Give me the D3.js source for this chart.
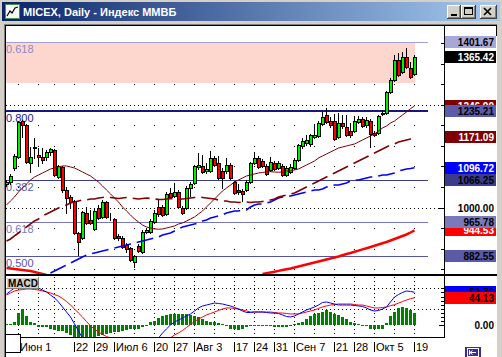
<!DOCTYPE html>
<html><head><meta charset="utf-8">
<script src="https://cdn.jsdelivr.net/npm/d3@7"></script>
<style>html,body{margin:0;padding:0;background:#D4D0C8;overflow:hidden}svg{display:block}</style>
</head><body><svg id="c" width="502" height="357"></svg>
<script>
// ---------------- DATA ----------------
const firstDay = "2009-05-27", lastDay = "2009-10-19";
const holidays = ["2009-06-12"];
const open = [1057.5,1062.3,1096.3,1123.0,1210.5,1200.8,1108.5,1147.3,1127.9,1123.0,
1123.0,1135.2,1140.0,1074.5,1098.8,1042.9,1025.9,1016.2,938.4,926.3,
987.0,970.0,948.2,999.2,977.3,1013.7,979.7,972.4,931.2,926.3,
909.3,902.0,868.0,906.9,892.3,940.9,940.9,965.2,1001.6,1001.6,
984.6,1035.6,1028.3,1038.0,999.2,999.2,1047.7,1059.9,1098.8,1101.2,
1089.0,1089.0,1120.6,1108.5,1089.0,1089.0,1103.6,1062.3,1042.9,1040.5,
1042.9,1062.3,1108.5,1120.6,1113.3,1101.2,1091.5,1108.5,1096.3,1101.2,
1079.3,1086.6,1096.3,1115.8,1149.8,1157.1,1154.6,1171.6,1174.1,1203.2,
1225.1,1210.5,1210.5,1171.6,1205.6,1195.9,1186.2,1186.2,1208.1,1215.3,
1200.8,1210.5,1181.3,1181.3,1227.5,1229.9,1280.9,1310.1,1358.7,1329.5,
1365.9,1339.2,1324.7];
const high = [1067.2,1081.8,1130.3,1210.5,1212.9,1203.2,1147.3,1169.2,1144.9,1144.9,
1140.0,1144.9,1142.5,1103.6,1101.2,1050.2,1030.7,1018.6,940.9,991.9,
1001.6,994.3,999.2,1006.5,1018.6,1016.2,987.0,974.9,936.0,931.2,
914.2,904.4,885.0,911.7,945.7,950.6,972.4,994.3,1021.0,1006.5,
1038.0,1047.7,1059.9,1042.9,1004.0,1052.6,1062.3,1103.6,1132.8,1127.9,
1108.5,1137.6,1125.5,1125.5,1096.3,1120.6,1108.5,1064.8,1057.5,1045.3,
1067.2,1110.9,1135.2,1125.5,1118.2,1106.0,1123.0,1113.3,1113.3,1106.0,
1101.2,1106.0,1120.6,1154.6,1169.2,1176.5,1178.9,1203.2,1210.5,1232.4,
1242.1,1220.2,1227.5,1229.9,1225.1,1225.1,1205.6,1222.6,1222.6,1220.2,
1220.2,1215.3,1186.2,1225.1,1237.2,1283.4,1314.9,1370.8,1375.7,1378.1,
1387.8,1353.8,1370.8];
const low = [1052.6,1057.5,1091.5,1120.6,1171.6,1108.5,1086.6,1120.6,1103.6,1108.5,
1115.8,1127.9,1076.9,1072.0,1038.0,987.0,999.2,936.0,885.0,923.9,
960.3,960.3,945.7,972.4,974.9,974.9,970.0,923.9,921.4,902.0,
892.3,870.4,855.9,892.3,889.9,938.4,938.4,962.7,979.7,979.7,
982.2,1023.5,1025.9,999.2,984.6,996.7,1028.3,1057.5,1093.9,1084.2,
1084.2,1086.6,1101.2,1069.6,1047.7,1084.2,1069.6,1033.2,1033.2,1016.2,
1040.5,1059.9,1106.0,1096.3,1098.8,1079.3,1089.0,1091.5,1093.9,1076.9,
1076.9,1084.2,1093.9,1113.3,1144.9,1152.2,1149.8,1169.2,1171.6,1200.8,
1205.6,1195.9,1164.3,1169.2,1193.5,1174.1,1171.6,1183.8,1205.6,1195.9,
1195.9,1147.3,1174.1,1178.9,1225.1,1227.5,1278.5,1307.7,1319.8,1327.1,
1339.2,1314.9,1322.2];
const close = [1062.3,1076.9,1125.5,1208.1,1200.8,1110.9,1123.0,1144.9,1123.0,1115.8,
1135.2,1142.5,1079.3,1101.2,1042.9,1023.5,1013.7,938.4,916.6,989.5,
962.7,962.7,991.9,974.9,1013.7,977.3,978.5,926.3,926.3,904.4,
899.6,872.9,882.6,894.7,940.9,945.7,967.6,987.0,984.6,982.2,
1033.2,1025.9,1038.0,1001.6,987.0,1047.7,1057.5,1101.2,1103.6,1086.6,
1093.9,1120.6,1103.6,1072.0,1072.0,1103.6,1072.0,1035.6,1038.0,1033.2,
1062.3,1108.5,1120.6,1098.8,1101.2,1081.8,1110.9,1093.9,1108.5,1079.3,
1096.3,1098.8,1115.8,1152.2,1161.9,1164.3,1176.5,1176.5,1205.6,1220.2,
1208.1,1200.8,1166.8,1205.6,1198.3,1176.5,1176.5,1210.5,1215.3,1198.3,
1212.9,1178.9,1176.5,1222.6,1229.9,1280.9,1310.1,1358.7,1322.2,1365.9,
1341.7,1317.4,1365.42];
const maFast = [1006.5,1016.2,1025.9,1038.0,1047.7,1057.5,1067.2,1074.5,1079.3,1084.2,
1089.0,1093.9,1096.3,1098.8,1101.2,1101.2,1098.8,1096.3,1091.5,1086.6,
1081.8,1076.9,1069.6,1062.3,1052.6,1042.9,1033.2,1023.5,1013.7,1001.6,
991.9,982.2,972.4,965.2,957.9,953.0,950.6,948.2,947.6,948.2,
950.6,953.0,955.4,960.3,962.7,967.6,972.4,977.3,984.6,991.9,
1001.6,1011.3,1021.0,1030.7,1040.5,1047.7,1055.0,1062.3,1067.2,1072.0,
1076.9,1079.3,1081.8,1084.2,1085.4,1086.6,1087.2,1086.6,1086.0,1086.6,
1089.0,1089.0,1091.5,1093.9,1098.8,1103.6,1108.5,1113.3,1120.6,1125.5,
1130.3,1135.2,1140.0,1144.9,1147.3,1149.8,1152.2,1154.6,1159.5,1164.3,
1169.2,1174.1,1178.9,1186.2,1193.5,1198.3,1205.6,1210.5,1217.8,1225.1,
1232.4,1240.5,1246.9];
const maSlow = [919.0,923.9,931.2,938.4,945.7,953.0,960.3,967.6,972.4,979.7,
984.6,989.5,994.3,999.2,1004.0,1006.5,1011.3,1013.7,1016.2,1018.6,
1018.6,1021.0,1021.0,1023.5,1024.7,1025.9,1024.7,1023.5,1022.2,1023.5,
1024.7,1023.5,1022.2,1021.0,1022.2,1023.5,1022.2,1021.0,1020.0,1019.8,
1021.0,1022.2,1021.0,1020.0,1021.0,1022.2,1023.5,1024.7,1025.9,1024.7,
1023.5,1022.2,1021.0,1018.6,1016.2,1016.2,1013.7,1013.7,1012.5,1013.7,
1013.7,1012.5,1013.7,1013.7,1014.9,1016.2,1018.6,1021.0,1025.9,1028.3,
1030.7,1033.2,1035.6,1040.5,1045.3,1050.2,1055.0,1059.9,1064.8,1069.6,
1074.5,1079.3,1084.2,1089.0,1093.9,1098.8,1103.6,1108.5,1113.3,1118.2,
1123.0,1127.9,1132.8,1137.6,1142.5,1147.3,1152.2,1154.6,1159.5,1161.9,
1164.3,1166.8,1171.09];
const maBlue = [null,null,null,null,null,null,null,null,null,null,
null,841.3,846.1,851.0,855.9,860.7,865.6,870.4,875.3,880.1,
885.0,887.4,889.9,892.3,894.7,897.1,899.6,902.0,904.4,906.9,
909.3,911.7,914.2,916.6,919.0,921.4,923.9,926.3,928.7,933.6,
936.0,938.4,943.3,948.2,953.0,955.4,957.9,960.3,962.7,967.6,
970.0,974.9,977.3,979.7,982.2,987.0,989.5,991.9,991.9,994.3,
994.3,1001.6,1006.5,1008.9,1008.9,1011.3,1013.7,1018.6,1023.5,1025.9,
1025.9,1028.3,1030.7,1033.2,1035.6,1038.0,1040.5,1042.9,1042.9,1045.3,
1050.2,1052.6,1055.0,1055.0,1057.5,1059.9,1064.8,1067.2,1067.2,1069.6,
1072.0,1074.5,1074.5,1076.9,1079.3,1079.3,1081.8,1084.2,1089.0,1091.5,
1093.9,1095.1,1096.72];
const maRed = [853.4,852.2,851.0,849.8,848.6,847.4,846.1,843.7,841.3,838.9,836.4]
  .concat(Array(53).fill(null))
  .concat([838.9,840.8,842.5,844.4,846.4,848.3,850.3,852.2,854.7,857.1,
  859.5,862.0,864.4,866.8,869.2,871.6,874.1,876.5,878.9,881.4,
  884.5,887.4,889.9,892.8,895.7,898.6,901.5,904.4,907.4,910.3,
  913.4,916.6,920.2,923.9,927.5,931.2,934.8,939.6,944.53]);
const macdMain = [50.0,54.8,59.5,62.0,64.3,64.3,62.7,61.1,59.5,56.3,
53.2,48.4,43.7,37.3,29.4,21.4,13.5,2.4,-8.7,-20,
-24,-28,-31,-34,-36,-38,-39,-40,-41,-42,
-42,-42,-41,-39,-36,-32,-28,-24,-20,-12,
-5.5,0.8,5.6,8.7,11.9,15.1,18.3,23.0,27.8,31.0,
32.5,34.1,35.7,34.9,34.1,32.5,31.0,28.6,26.2,23.0,
20.6,20.6,21.4,21.4,21.4,20.6,19.8,19.8,19.0,16.7,
14.3,13.5,15.1,18.3,21.4,24.6,27.0,29.4,32.5,36.5,
37.3,35.7,34.1,32.5,32.5,32.5,32.5,31.7,31.0,30.2,
27.8,24.6,23.0,23.8,26.2,29.4,37.3,45.2,49.2,52.4,
54.8,54.0,52.76];
const macdSignal = [48.4,51.6,54.8,56.3,57.1,57.9,57.9,57.1,56.3,54.8,
53.2,51.6,49.2,46.8,42.9,38.1,32.5,26.2,19.8,13.5,
6.3,-0.8,-5.6,-10.3,-14.3,-17.5,-19.8,-22,-24,-26,
-28,-29,-30,-31,-31,-31,-30,-29,-28,-26,
-24,-19.5,-15.1,-11.9,-7.9,-3.2,1.6,6.3,10.3,13.5,
16.7,19.0,21.4,23.8,26.2,27.8,27.8,27.0,26.2,24.6,
23.0,21.4,21.4,21.4,21.4,21.4,21.4,20.6,19.8,19.8,
19.0,18.3,18.3,18.3,19.8,21.4,23.0,24.6,27.0,29.4,
31.0,32.5,33.3,34.1,34.1,34.1,34.1,33.3,32.5,32.5,
31.0,29.4,27.8,27.8,28.6,29.4,31.5,33.0,35.5,38.0,
40.5,42.5,44.13];
const macdHist = [1.6,1.6,6.3,20.6,25.4,14.3,6.3,3.2,-3.2,-3.2,
-3.2,-4.8,-7.9,-9.5,-9.5,-12.7,-15.9,-19,-20.6,-20.6,
-20.6,-19,-19,-17.5,-15.9,-14.3,-12.7,-11.1,-11.1,-9.5,
-7.9,-6.3,-4.8,-4.8,-3.2,-1.6,4.8,7.9,11.1,14.3,
15.9,17.5,17.5,19,17.5,17.5,15.9,14.3,12.7,9.5,
7.9,6.3,4.8,3.2,1.6,-1.6,-4.8,-6.3,-7.9,-6.3,
-3.2,0.8,0.8,-0.8,-0.8,-0.8,-1.6,-3.2,-3.2,-3.2,
-3.2,-1.6,1.6,3.2,6.3,9.5,14.3,17.5,20.6,22.2,
23.8,22.2,19,15.9,12.7,9.5,6.3,3.2,1.6,0.8,
-1.6,-4.8,-6.3,-6.3,-4.8,3.2,14.3,22.2,27.0,28.6,
27.0,23.8,20.6];
const fibPrices = [1401.67, 1235.21, 1066.25, 965.78, 882.55];
const fibLabels = ["0.618", "0.800", "0.382", "0.618", "0.500"];
const zoneBottom = 1303.5;
const priceTicks = [850,900,950,1000,1050,1100,1150,1200,1250,1300,1350,1400];
const priceLabels = [1000];
const dottedLevels = [1000, 1250];
const macdGrid = [26.2, 59];
const macdMinorTicks = [6.6,13.1,19.7,26.2,32.8,39.3,45.9,52.4,59];
const xTicks = [["2009-06-01","Июн 1"],["2009-06-22","22"],["2009-06-29","29"],["2009-07-06","Июл 6"],
  ["2009-07-20","20"],["2009-07-27","27"],["2009-08-03","Авг 3"],["2009-08-17","17"],["2009-08-24","24"],
  ["2009-08-31","31"],["2009-09-07","Сен 7"],["2009-09-21","21"],["2009-09-28","28"],["2009-10-05","Окт 5"],["2009-10-19","19"]];
const titleText = "MICEX, Daily - Индекс ММВБ";

// ---------------- BUILD ----------------
const fmt = d3.timeFormat("%Y-%m-%d"), prs = d3.timeParse("%Y-%m-%d");
const dates = [];
for (let d = prs(firstDay); d <= prs(lastDay); d = d3.timeDay.offset(d, 1)) {
  const k = fmt(d), wd = d.getDay();
  if (wd !== 0 && wd !== 6 && !holidays.includes(k)) dates.push(k);
}
const bars = dates.map((d, i) => ({i, d, o: open[i], h: high[i], l: low[i], c: close[i]}));
const weekStarts = bars.filter(b => prs(b.d).getDay() === 1).map(b => b.i);

const svg = d3.select("#c");
const W = 502, H = 357;
const PL = 6, PR = 444, PT = 26, PB = 274, MT = 277, MB = 337;
const xs = d3.scaleLinear().domain([0, bars.length - 1]).range([6, 414]);
const yP = d3.scaleLinear().domain([838.8, 1441.2]).range([PB, PT]);
const yM = d3.scaleLinear().domain([-18.3, 77]).range([MB, MT]);
const FONT = "'Liberation Sans', Arial, sans-serif";

const defs = svg.append("defs");
const gr = defs.append("linearGradient").attr("id", "tb").attr("x1", "0").attr("x2", "1").attr("y1", "0").attr("y2", "0");
gr.append("stop").attr("offset", "0").attr("stop-color", "#0A246A");
gr.append("stop").attr("offset", "1").attr("stop-color", "#A6CAF0");
defs.append("clipPath").attr("id", "cpMain").append("rect").attr("x", PL).attr("y", PT).attr("width", PR - PL).attr("height", PB - PT);
defs.append("clipPath").attr("id", "cpMacd").append("rect").attr("x", PL).attr("y", 276).attr("width", PR - PL).attr("height", MB - 276);

// window
svg.append("rect").attr("width", W).attr("height", H).attr("fill", "#D4D0C8");
svg.append("rect").attr("x", 2).attr("y", 2).attr("width", 498).attr("height", 19).attr("fill", "url(#tb)");
// icon
svg.append("rect").attr("x", 5.5).attr("y", 4.5).attr("width", 14).attr("height", 14).attr("fill", "#F4FAF4").attr("stroke", "#4E8E4E");
svg.append("polyline").attr("points", "7,16 10,11 12,13 15,8 18,7").attr("fill", "none").attr("stroke", "#000").attr("stroke-width", 1.2);
svg.append("text").attr("x", 23).attr("y", 16).attr("fill", "#fff").attr("font-family", FONT).attr("font-weight", "bold").attr("font-size", "11px").text(titleText);
function winBtn(x, w, kind) {
  const y = 5, h = 14;
  svg.append("rect").attr("x", x).attr("y", y).attr("width", w).attr("height", h).attr("fill", "#404040");
  svg.append("rect").attr("x", x).attr("y", y).attr("width", w - 1).attr("height", h - 1).attr("fill", "#fff");
  svg.append("rect").attr("x", x + 1).attr("y", y + 1).attr("width", w - 2).attr("height", h - 2).attr("fill", "#808080");
  svg.append("rect").attr("x", x + 1).attr("y", y + 1).attr("width", w - 3).attr("height", h - 3).attr("fill", "#D4D0C8");
  if (kind === "min") svg.append("rect").attr("x", x + 4).attr("y", y + 9).attr("width", 6).attr("height", 2).attr("fill", "#000");
  if (kind === "max") {
    svg.append("rect").attr("x", x + 3.5).attr("y", y + 2.5).attr("width", 8).attr("height", 7).attr("fill", "none").attr("stroke", "#000");
    svg.append("rect").attr("x", x + 3).attr("y", y + 2).attr("width", 9).attr("height", 2).attr("fill", "#000");
  }
  if (kind === "close") {
    svg.append("path").attr("d", `M${x + 4},${y + 3}L${x + 11},${y + 10}M${x + 11},${y + 3}L${x + 4},${y + 10}`).attr("stroke", "#000").attr("stroke-width", 1.6);
  }
}
winBtn(447, 14, "min"); winBtn(461, 15, "max"); winBtn(480, 17, "close");

// client area
svg.append("rect").attr("x", 4).attr("y", 24).attr("width", 493).attr("height", 333).attr("fill", "#808080");
svg.append("rect").attr("x", 5).attr("y", 25).attr("width", 492).attr("height", 332).attr("fill", "#000");
svg.append("rect").attr("x", 6).attr("y", 26).attr("width", 491).attr("height", 331).attr("fill", "#fff");

// ---------- main panel ----------
const gm = svg.append("g").attr("clip-path", "url(#cpMain)");
const ry = v => Math.round(yP(v));
priceTicks.forEach(p => weekStarts.forEach(i => {
  gm.append("rect").attr("x", xs(i)).attr("y", ry(p)).attr("width", 1).attr("height", 1).attr("fill", "#000");
}));
dottedLevels.forEach(p => gm.append("line").attr("x1", PL).attr("x2", PR).attr("y1", ry(p) + 0.5).attr("y2", ry(p) + 0.5)
  .attr("stroke", "#000").attr("stroke-dasharray", "1,3"));
gm.append("rect").attr("x", PL).attr("y", ry(fibPrices[0])).attr("width", xs(bars.length - 1) + 1 - PL)
  .attr("height", ry(zoneBottom) - ry(fibPrices[0])).attr("fill", "#FDD6CE");
const fibStyle = [
  {c: "#A0A0D4", w: 1, t: "#8A8AC8"},
  {c: "#16167E", w: 2, t: "#202088"},
  {c: "#3C3C8C", w: 1, t: "#5A5AA8"},
  {c: "#7878B8", w: 1, t: "#7A7ABA"},
  {c: "#5454A4", w: 1, t: "#5656A6"}];
const fibEnd = 428;
fibPrices.forEach((p, k) => {
  const s = fibStyle[k];
  const yy = s.w === 2 ? ry(p) : ry(p) + 0.5;
  gm.append("line").attr("x1", PL).attr("x2", fibEnd).attr("y1", yy).attr("y2", yy).attr("stroke", s.c).attr("stroke-width", s.w);
  gm.append("text").attr("x", 6).attr("y", ry(p) + 11).attr("fill", s.t)
    .attr("font-family", FONT).attr("font-size", "11px").text(fibLabels[k]);
});
const cg = gm.append("g");
bars.forEach(b => {
  const xc = xs(b.i);
  const top = Math.round(yP(Math.max(b.o, b.c))), bot = Math.round(yP(Math.min(b.o, b.c)));
  cg.append("line").attr("x1", xc + 0.5).attr("x2", xc + 0.5).attr("y1", Math.round(yP(b.h))).attr("y2", Math.round(yP(b.l)) + 1)
    .attr("stroke", "#000").attr("shape-rendering", "crispEdges");
  const up = b.c >= b.o;
  cg.append("rect").attr("x", xc - 0.5).attr("y", top + 0.5).attr("width", 3).attr("height", Math.max(bot - top, 0))
    .attr("fill", up ? "#00F000" : "#FF0000").attr("stroke", "#000").attr("stroke-width", 1);
});
function maLine(arr, color, width, dash) {
  const ln = d3.line().defined(d => d != null).x((d, i) => xs(i) + 0.5).y(d => yP(d));
  const p = gm.append("path").attr("d", ln(arr)).attr("fill", "none").attr("stroke", color).attr("stroke-width", width);
  if (dash) p.attr("stroke-dasharray", dash);
}
maLine(maRed, "#FF0000", 2.5);
maLine(maBlue, "#0000FF", 1.6, "17,6");
maLine(maSlow, "#800000", 1.6, "17,6");
maLine(maFast, "#800000", 1);

// ---------- MACD panel ----------
const gmc = svg.append("g").attr("clip-path", "url(#cpMacd)");
macdGrid.forEach(v => gmc.append("line").attr("x1", PL).attr("x2", PR).attr("y1", Math.round(yM(v)) + 0.5).attr("y2", Math.round(yM(v)) + 0.5)
  .attr("stroke", "#000").attr("stroke-dasharray", "1,3"));
weekStarts.forEach(i => gmc.append("line").attr("x1", xs(i) + 0.5).attr("x2", xs(i) + 0.5).attr("y1", MT).attr("y2", MB)
  .attr("stroke", "#000").attr("stroke-dasharray", "1,3"));
const y0 = Math.round(yM(0));
macdHist.forEach((v, i) => {
  const yv = Math.round(yM(v));
  gmc.append("rect").attr("x", xs(i) - 1).attr("y", Math.min(yv, y0)).attr("width", 3).attr("height", Math.max(Math.abs(yv - y0), 1)).attr("fill", "#008000");
});
const mline = d3.line().x((d, i) => xs(i) + 0.5).y(d => yM(d));
gmc.append("path").attr("d", mline(macdSignal)).attr("fill", "none").attr("stroke", "#FF0000").attr("stroke-width", 1);
gmc.append("path").attr("d", mline(macdMain)).attr("fill", "none").attr("stroke", "#0000FF").attr("stroke-width", 1);

// frames
svg.append("rect").attr("x", 5).attr("y", 274).attr("width", 492).attr("height", 2).attr("fill", "#000");
svg.append("rect").attr("x", 5).attr("y", 337).attr("width", 440).attr("height", 1).attr("fill", "#000");
svg.append("rect").attr("x", 444).attr("y", 25).attr("width", 1).attr("height", 313).attr("fill", "#000");
svg.append("rect").attr("x", 496).attr("y", 25).attr("width", 1).attr("height", 11).attr("fill", "#000");

// MACD label
svg.append("rect").attr("x", 6).attr("y", 277).attr("width", 33).attr("height", 12).attr("fill", "#808080");
svg.append("rect").attr("x", 6).attr("y", 277).attr("width", 32).attr("height", 11).attr("fill", "#fff");
svg.append("rect").attr("x", 7).attr("y", 278).attr("width", 31).attr("height", 10).attr("fill", "#D4D0C8");
svg.append("text").attr("x", 8).attr("y", 287).attr("font-family", FONT).attr("font-weight", "bold").attr("font-size", "10px").attr("fill", "#000").text("MACD");

// price axis ticks
priceTicks.forEach(p => {
  const long = priceLabels.includes(p);
  svg.append("rect").attr("x", long ? 439 : 441).attr("y", ry(p)).attr("width", long ? 5 : 3).attr("height", 1).attr("fill", "#000");
});
priceLabels.forEach(p => svg.append("text").attr("x", 494).attr("y", yP(p) + 4).attr("text-anchor", "end")
  .attr("font-family", FONT).attr("font-weight", "bold").attr("font-size", "10px").text(p.toFixed(2)));
macdMinorTicks.forEach(v => svg.append("rect").attr("x", 441).attr("y", Math.round(yM(v))).attr("width", 3).attr("height", 1).attr("fill", "#000"));
svg.append("rect").attr("x", 439).attr("y", y0).attr("width", 5).attr("height", 1).attr("fill", "#000");
svg.append("text").attr("x", 494).attr("y", yM(0) + 4).attr("text-anchor", "end")
  .attr("font-family", FONT).attr("font-weight", "bold").attr("font-size", "10px").text((0).toFixed(2));

function priceBox(v, scale, bg, fg) {
  const cy = scale(v);
  svg.append("rect").attr("x", 445).attr("y", Math.round(cy - 6)).attr("width", 51).attr("height", 12).attr("fill", bg);
  svg.append("text").attr("x", 494).attr("y", Math.round(cy) + 4).attr("text-anchor", "end").attr("fill", fg)
    .attr("font-family", FONT).attr("font-weight", "bold").attr("font-size", "10px").text(v.toFixed(2));
}
const last = bars.length - 1;
priceBox(maFast[last], yP, "#800000", "#fff");
priceBox(maSlow[last], yP, "#800000", "#fff");
priceBox(maBlue[last], yP, "#0000FF", "#fff");
priceBox(maRed[last], yP, "#FF0000", "#fff");
const fibBoxBg = ["#A8A8D8", "#5C5CAC", "#3C3C8C", "#7A7ABA", "#5A5AAA"];
fibPrices.forEach((p, k) => priceBox(p, yP, fibBoxBg[k], "#000"));
priceBox(close[last], yP, "#000", "#fff");
priceBox(macdMain[last], yM, "#0000FF", "#000");
priceBox(macdSignal[last], yM, "#FF0000", "#000");

// x axis labels
const idxOf = d => dates.indexOf(d);
xTicks.forEach(([d, lab]) => {
  const i = idxOf(d); if (i < 0) return;
  const x = xs(i);
  svg.append("rect").attr("x", x).attr("y", 342).attr("width", 1).attr("height", 10).attr("fill", "#000");
  svg.append("text").attr("x", x + 2).attr("y", 351).attr("font-family", FONT).attr("font-size", "11px").attr("fill", "#000").text(lab);
});
svg.append("rect").attr("x", 5.5).attr("y", 334.5).attr("width", 15).attr("height", 18).attr("fill", "#fff").attr("stroke", "#000");
svg.append("rect").attr("x", 465).attr("y", 347).attr("width", 16).attr("height", 10).attr("fill", "#3A2A9C");
svg.append("rect").attr("x", 467.5).attr("y", 348.5).attr("width", 11).attr("height", 8).attr("fill", "none").attr("stroke", "#fff");
svg.append("path").attr("d", "M470,352.5L476,352.5M470,352.5L472.5,350.5M470,352.5L472.5,354.5M469.5,350L469.5,355").attr("stroke", "#fff").attr("fill", "none");
</script>
</body></html>
